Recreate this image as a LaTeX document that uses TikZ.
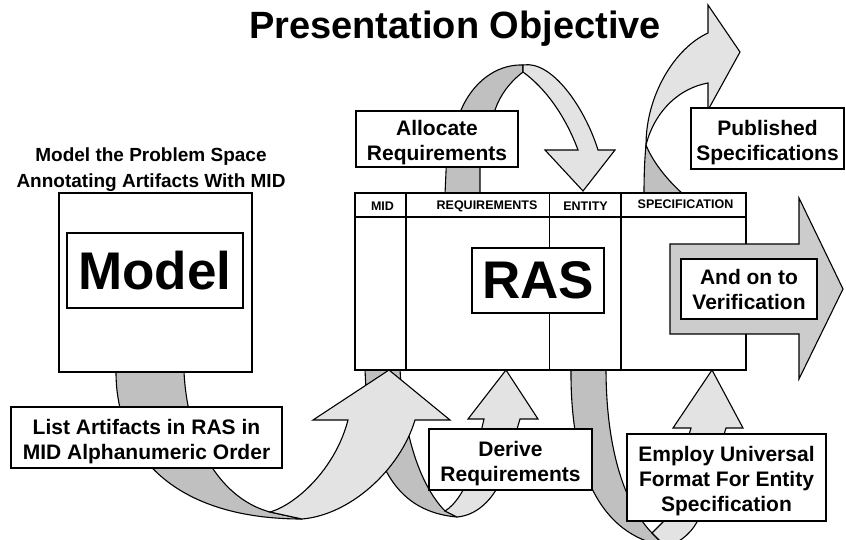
\documentclass[tikz,border=0pt]{standalone}
\usepackage{fontspec}
\setmainfont{Liberation Sans}
\definecolor{ribbondark}{RGB}{192,192,192}
\definecolor{ribbonlight}{RGB}{227,227,227}
\definecolor{arrowgray}{RGB}{204,204,204}
\newcommand{\capstrut}{\rule{0pt}{23pt}}

\begin{document}
\begin{tikzpicture}[x=1pt, y=-1pt,
    box/.style={draw, fill=white, line width=1.1pt, inner sep=0pt, align=center, font=\fontsize{21}{25}\selectfont\bfseries},
    bigbox/.style={draw, fill=white, line width=1.1pt, inner sep=0pt, font=\fontsize{53}{60}\selectfont\bfseries},
    colhead/.style={font=\fontsize{12.5}{14}\selectfont\bfseries},
    headline/.style={font=\fontsize{38}{44}\selectfont\bfseries},
    subhead/.style={align=center, font=\fontsize{19}{26}\selectfont\bfseries},
    ribback/.style={draw, fill=ribbondark, line width=1.1pt, line join=round},
    ribfront/.style={draw, fill=ribbonlight, line width=1.1pt, line join=miter},
    bigarrow/.style={draw, fill=arrowgray, line width=1.1pt},
    rule/.style={line width=1.1pt},
]
\useasboundingbox (0,0) rectangle (846,539);
\clip (0,0) rectangle (846,539);

% Headings
\node[headline, anchor=base] (title) at (455,38) {Presentation Objective};
\node[subhead] (modelhead) at (151,165) {\capstrut Model the Problem Space\\Annotating Artifacts With MID};

% Allocate ribbon
\draw[ribback] (445,194) -- (447,150) -- (461,110) .. controls (472,84) and (495,64) .. (523,65)
  -- (523,72) .. controls (510,82) and (500,95) .. (495,110) -- (480,150) -- (480,194) -- cycle;
\draw[ribfront] (523,65) .. controls (552,60) and (585,108) .. (598,150) -- (615,150) -- (583,191)
  -- (545,150) -- (578,150) .. controls (565,115) and (545,88) .. (523,72) -- cycle;

% Published ribbon
\draw[ribback] (644,194) .. controls (644,170) and (645,155) .. (646,145)
  .. controls (652,160) and (665,178) .. (683,194) -- cycle;
\draw[ribfront] (646,145) .. controls (646,95) and (675,48) .. (708,33) -- (708,5) -- (740,52)
  -- (708,110) -- (708,83) .. controls (680,88) and (655,110) .. (646,145) -- cycle;

% Derive ribbon (tail) and list ribbon
\draw[ribback] (365,368) -- (400,368) .. controls (402,420) and (415,480) .. (445,511)
  -- (457,517) .. controls (400,512) and (368,470) .. (365,368) -- cycle;
\draw[ribback] (116,372) .. controls (116,455) and (175,519) .. (302,519)
  -- (270,512) .. controls (225,500) and (188,450) .. (184,372) -- cycle;
\draw[ribfront] (270,512) -- (302,519) .. controls (350,515) and (400,470) .. (415,420) -- (450,420)
  -- (389,370) -- (313,420) -- (348,420) .. controls (335,470) and (295,505) .. (270,512) -- cycle;
\draw[ribfront] (445,511) -- (457,517) .. controls (480,515) and (497,495) .. (505,470) -- (520,419)
  -- (538,419) -- (506,370) -- (468,419) -- (484,419) -- (472,470) .. controls (465,490) and (455,505) .. (445,511) -- cycle;

% Employ ribbon
\draw[ribback] (571,368) -- (606,368) .. controls (606,450) and (625,505) .. (652,533)
  -- (665,546) .. controls (600,535) and (570,470) .. (571,368) -- cycle;
\draw[ribfront] (652,533) -- (665,546) .. controls (675,546) and (690,535) .. (697,522) -- (726,428)
  -- (743,428) -- (712,370) -- (673,428) -- (691,428) -- (663,522) .. controls (658,527) .. (652,533) -- cycle;

% Model
\node[draw, fill=white, line width=1.1pt, minimum width=193pt, minimum height=179pt] (modelbox) at (155.5,282.5) {};
\node[bigbox, minimum width=176pt, minimum height=75pt] (model) at (155,270.5) {Model};

% RAS table
\node[draw, fill=white, line width=1.1pt, minimum width=391pt, minimum height=177pt] (rastable) at (550.5,281.5) {};
\draw[rule] (355,217) -- (746,217);
\draw[rule] (406,193) -- (406,370);
\draw[rule] (549.5,193) -- (549.5,370);
\draw[rule] (621,193) -- (621,370);
\node[colhead] (midcol) at (382.5,206) {MID};
\node[colhead] (reqcol) at (487,206) {REQUIREMENTS};
\node[colhead] (entcol) at (585.5,206) {ENTITY};
\node[colhead] (speccol) at (685.5,204) {SPECIFICATION};
\node[bigbox, minimum width=132pt, minimum height=65pt] (ras) at (538,280.5) {RAS};

% Verification arrow
\draw[bigarrow] (670,244) -- (799,244) -- (799,198) -- (843,289) -- (799,379) -- (799,334) -- (670,334) -- cycle;

% Labels
\node[box, minimum width=162pt, minimum height=56pt] (alloc) at (437,139) {\capstrut Allocate\\Requirements};
\node[box, minimum width=153pt, minimum height=61pt] (publ) at (767.5,138.5) {\capstrut Published\\Specifications};
\node[box, minimum width=136pt, minimum height=60pt] (verif) at (749,289) {And on to\\Verification};
\node[box, minimum width=271pt, minimum height=61pt] (list) at (146.5,437.5) {\capstrut List Artifacts in RAS in\\MID Alphanumeric Order};
\node[box, minimum width=163pt, minimum height=61pt] (derive) at (510.5,459.5) {\capstrut Derive\\Requirements};
\node[box, minimum width=199pt, minimum height=87pt] (employ) at (726.5,477.5) {\capstrut Employ Universal\\Format For Entity\\Specification};

\end{tikzpicture}
\end{document}
